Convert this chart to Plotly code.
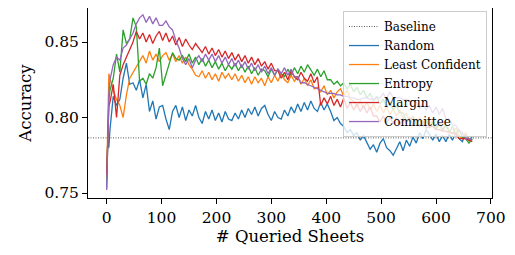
import plotly.graph_objects as go

QUERIES = [0, 2, 4] + list(range(6, 672, 6))

BASELINE = 0.7865

RANDOM = [
    0.753, 0.785, 0.780, 0.792, 0.814, 0.808, 0.812, 0.826, 0.836, 0.822,
    0.823, 0.818, 0.825, 0.813, 0.822, 0.804, 0.811, 0.799, 0.807, 0.808,
    0.799, 0.792, 0.804, 0.808, 0.800, 0.807, 0.798, 0.805, 0.801, 0.808,
    0.800, 0.796, 0.804, 0.799, 0.805, 0.798, 0.803, 0.797, 0.804, 0.799,
    0.798, 0.803, 0.799, 0.805, 0.800, 0.806, 0.802, 0.807, 0.801, 0.806,
    0.808, 0.802, 0.798, 0.804, 0.800, 0.799, 0.805, 0.801, 0.807, 0.803,
    0.809, 0.804, 0.810, 0.805, 0.811, 0.806, 0.804, 0.810, 0.805, 0.809,
    0.804, 0.798, 0.800, 0.796, 0.794, 0.790, 0.792, 0.788, 0.790, 0.785,
    0.788, 0.783, 0.779, 0.782, 0.777, 0.783, 0.786, 0.780, 0.778, 0.775,
    0.780, 0.784, 0.778, 0.785, 0.781, 0.787, 0.783, 0.790, 0.786, 0.792,
    0.789, 0.785, 0.789, 0.784, 0.788, 0.784, 0.789, 0.785, 0.790, 0.786,
    0.784, 0.789, 0.785, 0.787,
]

LEAST_CONFIDENT = [
    0.760, 0.805, 0.829, 0.826, 0.818, 0.812, 0.808, 0.800, 0.815, 0.826,
    0.830, 0.833, 0.838, 0.841, 0.836, 0.844, 0.838, 0.842, 0.837, 0.841,
    0.843, 0.838, 0.842, 0.837, 0.841, 0.836, 0.840, 0.835, 0.832, 0.828,
    0.827, 0.831, 0.826, 0.830, 0.825, 0.829, 0.824, 0.830, 0.826, 0.829,
    0.825, 0.829, 0.824, 0.828, 0.823, 0.827, 0.822, 0.827, 0.823, 0.826,
    0.821, 0.827, 0.823, 0.828, 0.824, 0.829, 0.825, 0.823, 0.828, 0.824,
    0.827, 0.822, 0.826, 0.821, 0.825, 0.819, 0.820, 0.817, 0.821, 0.815,
    0.818, 0.813, 0.817, 0.819, 0.814, 0.818, 0.812, 0.811, 0.807, 0.811,
    0.806, 0.810, 0.805, 0.809, 0.804, 0.808, 0.803, 0.807, 0.802, 0.806,
    0.801, 0.805, 0.799, 0.803, 0.797, 0.801, 0.796, 0.800, 0.795, 0.799,
    0.794, 0.798, 0.793, 0.797, 0.792, 0.796, 0.791, 0.789, 0.793, 0.788,
    0.786, 0.790, 0.785, 0.785,
]

ENTROPY = [
    0.758, 0.790, 0.812, 0.818, 0.826, 0.842, 0.830, 0.858, 0.849, 0.852,
    0.866, 0.860, 0.824, 0.826, 0.822, 0.829, 0.826, 0.833, 0.846, 0.821,
    0.828, 0.836, 0.843, 0.839, 0.838, 0.841, 0.837, 0.842, 0.836, 0.840,
    0.835, 0.839, 0.834, 0.838, 0.833, 0.837, 0.832, 0.836, 0.831, 0.835,
    0.832, 0.836, 0.831, 0.835, 0.830, 0.834, 0.829, 0.833, 0.828, 0.832,
    0.831, 0.827, 0.832, 0.828, 0.832, 0.829, 0.827, 0.832, 0.828, 0.833,
    0.829, 0.834, 0.830, 0.835, 0.831, 0.828, 0.832, 0.827, 0.831, 0.825,
    0.825, 0.822, 0.824, 0.821, 0.823, 0.819, 0.822, 0.817, 0.820, 0.815,
    0.818, 0.813, 0.816, 0.811, 0.814, 0.809, 0.812, 0.807, 0.810, 0.805,
    0.808, 0.803, 0.803, 0.798, 0.798, 0.800, 0.795, 0.799, 0.794, 0.798,
    0.793, 0.797, 0.792, 0.796, 0.791, 0.795, 0.790, 0.794, 0.789, 0.792,
    0.787, 0.786, 0.783, 0.786,
]

MARGIN = [
    0.762, 0.795, 0.808, 0.810, 0.822, 0.800, 0.828, 0.835, 0.840, 0.845,
    0.850, 0.857, 0.852, 0.856, 0.850, 0.855, 0.849, 0.854, 0.857, 0.851,
    0.856, 0.850, 0.854, 0.848, 0.853, 0.847, 0.852, 0.848, 0.845, 0.849,
    0.846, 0.843, 0.847, 0.842, 0.846, 0.841, 0.845, 0.840, 0.844, 0.839,
    0.843, 0.838, 0.842, 0.837, 0.841, 0.836, 0.840, 0.835, 0.839, 0.834,
    0.837, 0.832, 0.836, 0.831, 0.831, 0.826, 0.830, 0.825, 0.831, 0.827,
    0.825, 0.830, 0.826, 0.824, 0.829, 0.823, 0.827, 0.808, 0.813, 0.809,
    0.814, 0.808, 0.812, 0.807, 0.813, 0.806, 0.810, 0.805, 0.809, 0.804,
    0.808, 0.803, 0.807, 0.801, 0.801, 0.797, 0.801, 0.796, 0.800, 0.796,
    0.800, 0.795, 0.799, 0.796, 0.800, 0.795, 0.799, 0.794, 0.798, 0.793,
    0.794, 0.794, 0.792, 0.792, 0.791, 0.791, 0.790, 0.790, 0.789, 0.786,
    0.786, 0.786, 0.785, 0.784,
]

COMMITTEE = [
    0.752, 0.790, 0.815, 0.825, 0.835, 0.840, 0.838, 0.846, 0.848, 0.852,
    0.856, 0.862, 0.866, 0.868, 0.863, 0.867, 0.862, 0.866, 0.861, 0.861,
    0.864, 0.860, 0.858, 0.851, 0.846, 0.839, 0.835, 0.839, 0.833, 0.838,
    0.841, 0.837, 0.842, 0.838, 0.842, 0.837, 0.841, 0.836, 0.840, 0.835,
    0.839, 0.834, 0.838, 0.833, 0.837, 0.832, 0.836, 0.831, 0.835, 0.830,
    0.834, 0.829, 0.833, 0.828, 0.832, 0.829, 0.833, 0.828, 0.832, 0.827,
    0.827, 0.823, 0.823, 0.822, 0.821, 0.820, 0.819, 0.818, 0.817, 0.816,
    0.816, 0.816, 0.815, 0.815, 0.814, 0.814, 0.813, 0.813, 0.812, 0.812,
    0.813, 0.813, 0.812, 0.812, 0.813, 0.813, 0.816, 0.812, 0.817, 0.813,
    0.813, 0.813, 0.812, 0.812, 0.811, 0.811, 0.810, 0.806, 0.809, 0.805,
    0.808, 0.803, 0.807, 0.802, 0.806, 0.799, 0.799, 0.795, 0.795, 0.791,
    0.790, 0.786, 0.786, 0.785,
]

SERIES = [
    ("Random", RANDOM, "#1f77b4"),
    ("Least Confident", LEAST_CONFIDENT, "#ff7f0e"),
    ("Entropy", ENTROPY, "#2ca02c"),
    ("Margin", MARGIN, "#d62728"),
    ("Committee", COMMITTEE, "#9467bd"),
]

X_RANGE = [-34, 702]
Y_RANGE = [0.74669, 0.87252]
Y_TICKS = [0.75, 0.80, 0.85]
Y_TICK_LABELS = ["0.75", "0.80", "0.85"]
X_TICKS = [0, 100, 200, 300, 400, 500, 600, 700]

FONT = "DejaVu Serif"

fig = go.Figure()
fig.add_trace(go.Scatter(
    x=X_RANGE, y=[BASELINE, BASELINE], mode="lines", name="Baseline",
    line=dict(color="#555555", width=1, dash="1px,1.5px"),
))
for name, vals, color in SERIES:
    fig.add_trace(go.Scatter(
        x=QUERIES, y=vals, mode="lines", name=name,
        line=dict(color=color, width=1.3),
    ))

fig.update_layout(
    width=507, height=247,
    margin=dict(l=80, r=23, t=0, b=57),
    paper_bgcolor="white", plot_bgcolor="white",
    font=dict(family=FONT, size=15.5, color="black"),
    showlegend=True,
    legend=dict(
        x=0.9876, y=0.984, xanchor="right", yanchor="top",
        bgcolor="rgba(255,255,255,0.8)", bordercolor="#cccccc", borderwidth=1,
        font=dict(family=FONT, size=12, color="black"),
        tracegroupgap=0, itemwidth=30,
    ),
    xaxis=dict(
        range=X_RANGE, tickvals=X_TICKS, ticks="outside", ticklen=5,
        tickcolor="black", showline=True, linecolor="black", linewidth=1,
        mirror=False, showgrid=False, zeroline=False, automargin=False,
        title=dict(text="# Queried Sheets", font=dict(family=FONT, size=16.5), standoff=4),
        tickfont=dict(family=FONT, size=15.5),
    ),
    yaxis=dict(
        range=Y_RANGE, tickvals=Y_TICKS, ticktext=Y_TICK_LABELS,
        ticks="outside", ticklen=5, tickcolor="black", showline=True,
        linecolor="black", linewidth=1, mirror=True, showgrid=False,
        zeroline=False, automargin=False,
        title=dict(text="Accuracy", font=dict(family=FONT, size=16.5), standoff=8),
        tickfont=dict(family=FONT, size=15.5),
    ),
)

fig.write_html("out.html")
